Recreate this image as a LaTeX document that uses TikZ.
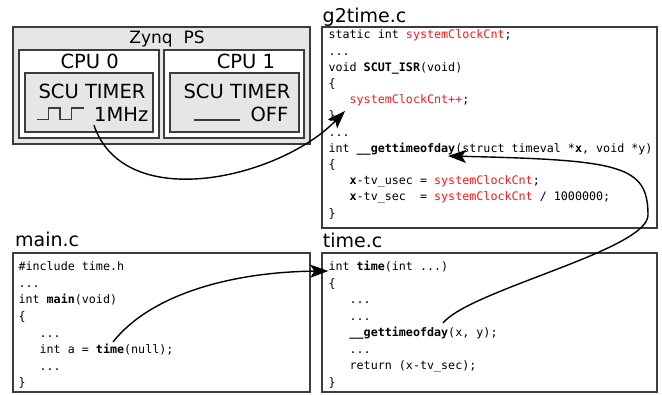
\documentclass[tikz,border=0pt]{standalone}
\usepackage{fontspec}
\setmainfont{DejaVu Sans}
\setmonofont{DejaVu Sans Mono}
\usetikzlibrary{arrows.meta,calc}

\definecolor{boxgray}{RGB}{230,230,230}
\definecolor{linegray}{RGB}{60,60,60}
\definecolor{codered}{RGB}{235,30,35}
\newcommand{\cred}[1]{\textcolor{codered}{#1}}
\newcommand{\ind}{\phantom{xxx}}
\newcommand{\etc}{...}

\tikzset{
	hwbox/.style = {draw=linegray, line width=1.8pt, inner sep=0pt},
	codebox/.style = {draw=linegray, line width=1.4pt, fill=white, inner sep=0pt},
	hwtext/.style = {font=\fontsize{19.5}{20}\selectfont, inner sep=0pt},
	filename/.style = {font=\fontsize{19}{20}\selectfont, inner sep=0pt, anchor=base west},
	codeline/.style = {font=\ttfamily\fontsize{11.7}{14}\selectfont, inner sep=0pt, anchor=base west},
	call/.style = {line width=1.4pt, -{Stealth[length=18pt,width=13pt,inset=4pt]}},
}

\begin{document}
\begin{tikzpicture}[x=1pt, y=1pt]
	\useasboundingbox (0,0) rectangle (662,394);

	\node[hwbox, fill=boxgray, minimum width=297pt, minimum height=117pt] (zynq) at (161.5,308.5) {};
	\node[hwbox, fill=white, minimum width=140pt, minimum height=88pt] (cpu0) at (89,300) {};
	\node[hwbox, fill=boxgray, minimum width=128pt, minimum height=59pt] (scu0) at (89,291.5) {};
	\node[hwbox, fill=white, minimum width=140pt, minimum height=88pt] (cpu1) at (234,300) {};
	\node[hwbox, fill=boxgray, minimum width=129pt, minimum height=59pt] (scu1) at (234.5,291.5) {};

	\node[font=\fontsize{17}{18}\selectfont, inner sep=0pt] (zynqlabel) at (167,355) {Zynq\ \ PS};
	\node[hwtext] (cpu0label) at (89.7,333) {CPU 0};
	\node[hwtext] (cpu1label) at (246,333) {CPU 1};
	\node[hwtext] (scu0label) at (92,303) {SCU TIMER};
	\node[hwtext] (scu1label) at (237,303) {SCU TIMER};
	\node[hwtext, anchor=east] (mhz) at (148.5,280) {1MHz};
	\node[hwtext, anchor=east] (off) at (288.5,280) {OFF};

	\draw[line width=1.2pt, linegray] (37.3,274.3) -| (48.3,286) -| (60,274.3) -| (71.7,286) -- (84,286);
	\draw[line width=1.2pt, linegray] (194,274) -- (240,274);

	\node[filename] (g2name) at (322.5,371.3) {g2time.c};
	\node[filename] (mainname) at (15,147.3) {main.c};
	\node[filename] (timename) at (322.7,146.7) {time.c};

	\node[codebox, minimum width=335pt, minimum height=201pt] (g2box) at (489.5,266.5) {};
	\node[codebox, minimum width=297pt, minimum height=139pt] (mainbox) at (161.5,71.5) {};
	\node[codebox, minimum width=335pt, minimum height=139pt] (timebox) at (489.5,71.5) {};

	\foreach \code [count=\i] in {
		{static int \cred{systemClockCnt};},
		{\etc},
		{void \textbf{SCUT\_ISR}(void)},
		{\{},
		{\ind\cred{systemClockCnt++};},
		{\}},
		{\etc},
		{int \textbf{\_\_gettimeofday}(struct timeval *\textbf{x}, void *y)},
		{\{},
		{\ind\textbf{x}-tv\_usec = \cred{systemClockCnt};},
		{\ind\textbf{x}-tv\_sec\ \ = \cred{systemClockCnt} / 1000000;},
		{\}}}
		\node[codeline] (g\i) at (328.3, 371.2-16.2*\i) {\code};

	\foreach \code [count=\i] in {
		{\#include time.h},
		{\etc},
		{int \textbf{main}(void)},
		{\{},
		{\ind\etc},
		{\ind int a = \textbf{time}(null);},
		{\ind\etc},
		{\}}}
		\node[codeline] (m\i) at (18.3, 139.9-16.6*\i) {\code};

	\foreach \code [count=\i] in {
		{int \textbf{time}(int \etc)},
		{\{},
		{\ind\etc},
		{\ind\etc},
		{\ind\textbf{\_\_gettimeofday}(x, y);},
		{\ind\etc},
		{\ind return (x-tv\_sec);},
		{\}}}
		\node[codeline] (t\i) at (328.3, 139.45-16.45*\i) {\code};

	\coordinate (bend) at (648,179);

	\draw[call] ($(mhz.south west)+(0,-4)$) .. controls (125,179) and (280,216) .. ($(g5.base west)+(16.7,-7.2)$);
	\draw[call] ($(m6.base west)+(94.7,11.7)$) .. controls (150,99) and (230,122) .. (t1.base west);
	\draw[call] ($(t5.base west)+(114.7,13.8)$) .. controls (470,104) and (648,144) .. (bend)
		.. controls (648,229) and (620,234) .. ($(g8.base west)+(119.7,-3.6)$);
\end{tikzpicture}
\end{document}
